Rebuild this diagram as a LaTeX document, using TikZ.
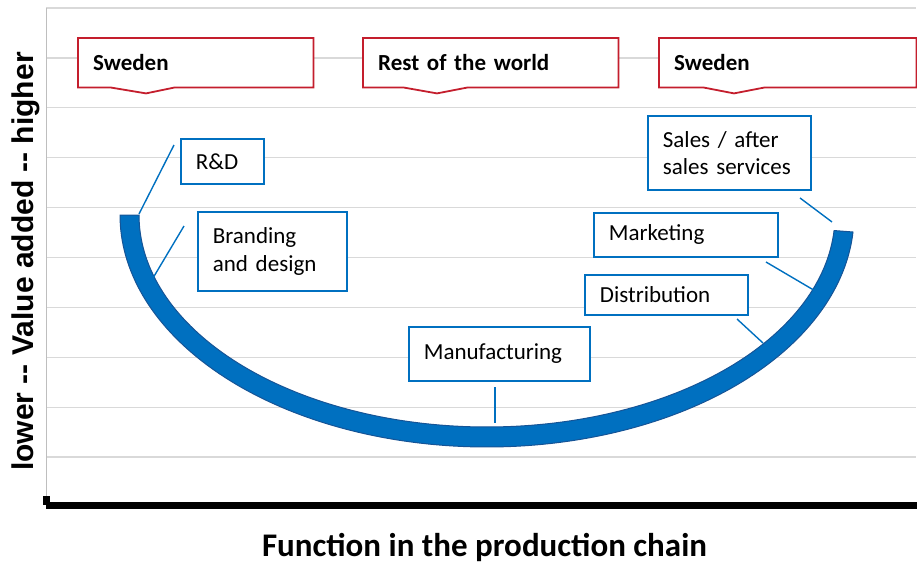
\documentclass[tikz,border=0pt]{standalone}
\usepackage{fontspec}
\setmainfont{Carlito}
\newfontfamily\axisfont[Ligatures=TeXOff]{Liberation Sans}
\usetikzlibrary{calc}
\definecolor{boxblue}{RGB}{0,112,192}
\definecolor{bandblue}{RGB}{0,112,192}
\definecolor{bandedge}{RGB}{22,84,150}
\definecolor{calloutred}{RGB}{196,30,45}
\definecolor{gridgray}{RGB}{217,217,217}
\definecolor{axisgray}{RGB}{190,190,190}

\begin{document}
\begin{tikzpicture}[x=1pt,y=-1pt,
  gridline/.style={draw=gridgray, line width=1.3pt},
  bluebox/.style={draw=boxblue, line width=1.8pt, fill=white, align=left,
    inner xsep=15pt, inner ysep=0pt, anchor=north west,
    font=\fontsize{23}{27.5}\selectfont},
  regionbox/.style={fill=white, inner xsep=15pt, inner ysep=0pt, align=left,
    anchor=north west, minimum height=49pt,
    font=\bfseries\fontsize{23}{27}\selectfont},
  regionline/.style={draw=calloutred, line width=1.8pt, line join=miter},
  leader/.style={draw=boxblue, line width=1.4pt},
  band/.style={fill=bandblue, draw=bandedge, line width=1pt, line join=round}]
\useasboundingbox (0,0) rectangle (917,565);

% horizontal grid
\foreach \i in {0,...,9}
  \draw[gridline] (46,{8+49.9*\i}) -- (916,{8+49.9*\i});
% vertical axis and base axis
\draw[draw=axisgray, line width=1pt] (46.5,8) -- (46.5,503);
\draw[line width=6.5pt] (46,505.5) -- (917,505.5);
\fill (43,496) rectangle (49.5,505);

% axis titles
\node[font=\axisfont\bfseries\fontsize{30}{30}\selectfont, rotate=90, anchor=base]
  (ylab) at (33,261.5) {lower -- Value added -- higher};
\node[font=\bfseries\fontsize{33}{34}\selectfont, anchor=base]
  (xlab) at (484.5,556.5) {Function in the production chain};

% region callouts
\node[regionbox, text width=205pt] (sw1) at (78,38) {Sweden};
\draw[regionline] (sw1.south west) |- (sw1.north east) |- ($(sw1.south west)+(97,0)$)
  -- ($(sw1.south west)+(68,6)$) -- ($(sw1.south west)+(32,0)$) -- cycle;
\node[regionbox, text width=225pt] (rw) at (363,38) {Rest of the world};
\draw[regionline] (rw.south west) |- (rw.north east) |- ($(rw.south west)+(105,0)$)
  -- ($(rw.south west)+(74,6)$) -- ($(rw.south west)+(40,0)$) -- cycle;
\node[regionbox, text width=227pt] (sw2) at (659,38) {Sweden};
\draw[regionline] (sw2.south west) |- (sw2.north east) |- ($(sw2.south west)+(106,0)$)
  -- ($(sw2.south west)+(75,6)$) -- ($(sw2.south west)+(44,0)$) -- cycle;

% smile curve band
\filldraw[band]
  plot[domain=180:4.2, samples=140, variable=\t] ({487+367*cos(\t)},{215+232*sin(\t)})
  -- plot[domain=4.2:180, samples=140, variable=\t] ({487+348*cos(\t)},{215+212*sin(\t)})
  -- cycle;

% function boxes
\node[bluebox, text width=53pt, minimum height=45pt] (rd) at (180,138) {R\&D};
\node[bluebox, text width=119pt, minimum height=79pt] (brand) at (197,211) {Branding\\and design};
\node[bluebox, text width=133pt, minimum height=74pt] (sales) at (647,115) {Sales / after\\sales services};
\node[bluebox, text width=154pt, minimum height=44pt] (mkt) at (593,212) {Marketing};
\node[bluebox, text width=133pt, minimum height=40pt] (dist) at (584,274) {Distribution};
\node[bluebox, text width=151pt, minimum height=54pt] (manu) at (408,326) {Manufacturing};

% leader lines from the boxes to the band
\coordinate (rd-a) at (174,145);    \coordinate (rd-b) at (139,214);
\coordinate (brand-a) at (184,226); \coordinate (brand-b) at (153,278);
\coordinate (sales-a) at (800,198); \coordinate (sales-b) at (832,222);
\coordinate (mkt-a) at (766,262);   \coordinate (mkt-b) at (817,292);
\coordinate (dist-a) at (737,319);  \coordinate (dist-b) at (763,343);
\coordinate (manu-a) at (495,387);  \coordinate (manu-b) at (495,423);
\foreach \n in {rd,brand,sales,mkt,dist,manu}
  \draw[leader] (\n-a) -- (\n-b);
\end{tikzpicture}
\end{document}
